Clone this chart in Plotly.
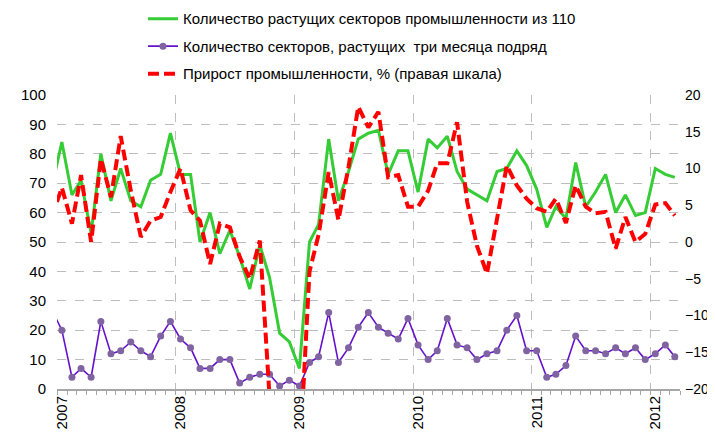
import pandas as pd
import plotly.graph_objects as go

# Monthly observations, Dec 2006 (partly outside the visible range) .. Mar 2012
start_month = "2006-12-01"
n_months = 64
months = pd.date_range(start_month, periods=n_months, freq="MS") + pd.Timedelta(days=15)

green_name = "Количество растущих секторов промышленности из 110"
purple_name = "Количество секторов, растущих  три месяца подряд"
red_name = "Прирост промышленности, % (правая шкала)"

growing_sectors = [
    68.6,
    84, 66, 71, 53, 80, 64, 75, 64, 62, 71, 73, 87,      # 2007
    73, 73, 50, 60, 46, 54, 45, 34, 49, 38, 19, 16,      # 2008
    7, 50, 56, 85, 64, 74, 85, 87, 88, 73, 81, 81,       # 2009
    67, 85, 82, 86, 74, 68, 66, 64, 74, 75, 81, 76,      # 2010
    68, 55, 62, 58, 77, 62, 67, 73, 60, 66, 59, 60,      # 2011
    75, 73, 72,                                          # 2012
]

three_month_sectors = [
    27,
    20, 4, 7, 4, 23, 12, 13, 16, 13, 11, 18, 23,         # 2007
    17, 14, 7, 7, 10, 10, 2, 4, 5, 5, 1, 3,              # 2008
    1, 9, 11, 26, 9, 14, 21, 26, 21, 19, 17, 24,         # 2009
    15, 10, 13, 24, 15, 14, 10, 12, 13, 20, 25, 13,      # 2010
    13, 4, 5, 8, 18, 13, 13, 12, 14, 12, 14, 10,         # 2011
    12, 15, 11,                                          # 2012
]

industry_growth = [
    3.4,
    7.4, 2.5, 9.1, 0.0, 11.3, 6.1, 14.4, 7.0, 0.7, 2.9, 3.4, 6.8,       # 2007
    10.0, 4.3, 2.9, -3.0, 2.5, 2.0, -2.0, -5.0, 0.2, -21.0, -30.0, -28.0, # 2008
    -30.0, -4.0, 1.0, 9.5, 3.0, 10.2, 18.4, 15.6, 17.7, 8.8, 9.1, 4.8,  # 2009
    4.8, 7.0, 10.7, 10.7, 16.3, 5.5, -0.5, -4.3, 3.0, 10.4, 7.7, 5.9,   # 2010
    4.6, 4.1, 5.9, 2.6, 7.7, 4.8, 3.9, 4.1, -0.9, 3.4, 0.0, 1.1,        # 2011
    5.1, 5.3, 3.6,                                                       # 2012
]

x_range = ["2007-01-01", "2012-04-01"]
left_range = [0, 100]
right_range = [-20, 20]

FONT = "Liberation Sans, Arial, sans-serif"
GRID = "#BDBDBD"
AXIS = "#A6A6A6"

fig = go.Figure()
fig.add_trace(go.Scatter(
    x=months, y=growing_sectors, name=green_name, mode="lines",
    line=dict(color="#35CC35", width=3), legendgroup="a",
))
fig.add_trace(go.Scatter(
    x=months, y=three_month_sectors, name=purple_name, mode="lines+markers",
    line=dict(color="#6610CC", width=1.6),
    marker=dict(color="#8064A2", size=7), legendgroup="b",
))
fig.add_trace(go.Scatter(
    x=months, y=industry_growth, name=red_name, mode="lines", yaxis="y2",
    line=dict(color="#FF0000", width=4, dash="11px,5px"), legendgroup="c",
))

# the page body adds an 8px offset, so the figure is 8px smaller than the window
fig.update_layout(
    width=707, height=424,
    margin=dict(l=49, r=35, t=87, b=43, autoexpand=False),
    paper_bgcolor="white", plot_bgcolor="white",
    font=dict(family=FONT, size=15, color="black"),
    showlegend=True,
    legend=dict(
        x=0.138, xanchor="left", y=1.315, yanchor="top",
        orientation="v", tracegroupgap=5,
        font=dict(family=FONT, size=15, color="black"),
        bgcolor="rgba(0,0,0,0)",
    ),
    xaxis=dict(
        type="date", range=x_range,
        tick0="2007-01-01", dtick="M12", tickformat="%Y", tickangle=-90,
        ticklabelshift=5, ticklabelstandoff=-5,
        showgrid=True, gridcolor=GRID, griddash="dash", gridwidth=1,
        ticks="outside", ticklen=4, tickcolor=AXIS,
        minor=dict(dtick="M1", ticks="outside", ticklen=4, tickcolor=AXIS, showgrid=False),
        showline=True, linecolor=AXIS, linewidth=2,
        zeroline=False, automargin=False,
        tickfont=dict(family=FONT, size=15),
    ),
    yaxis=dict(
        range=left_range, dtick=10, tick0=0,
        showgrid=True, gridcolor=GRID, griddash="dash", gridwidth=1,
        showline=False, zeroline=False, ticks="", ticklabelstandoff=10,
        automargin=False, tickfont=dict(family=FONT, size=15),
    ),
    yaxis2=dict(
        range=right_range, dtick=5, tick0=0, overlaying="y", side="right",
        showgrid=False, showline=False, zeroline=False, ticks="",
        ticklabelstandoff=4, automargin=False,
        tickfont=dict(family=FONT, size=14),
    ),
)

fig.write_html("out.html")
